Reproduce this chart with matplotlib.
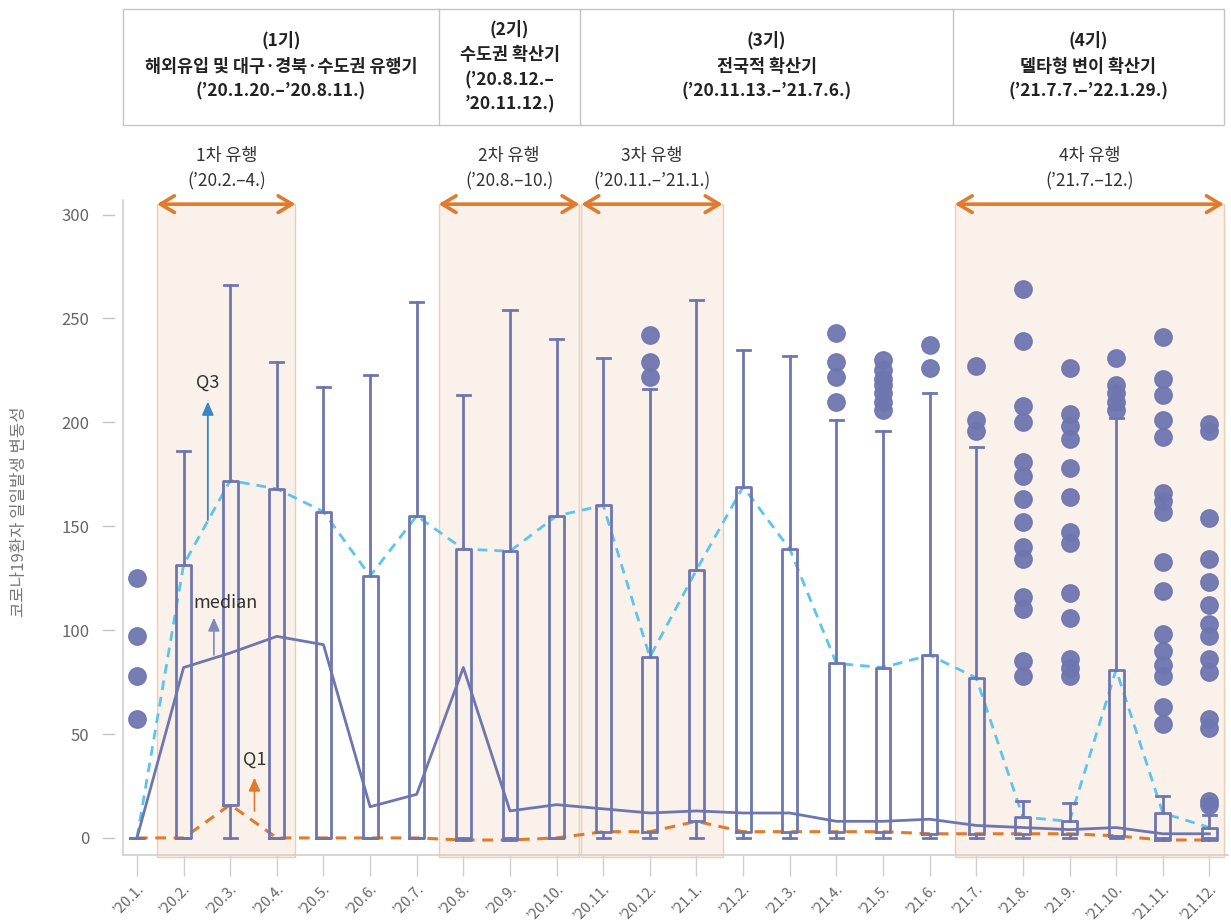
import matplotlib
matplotlib.use("Agg")
import matplotlib.pyplot as plt
from matplotlib.patches import Rectangle

plt.rcParams['font.family'] = ['Noto Sans CJK KR', 'DejaVu Sans']

# ---- data -------------------------------------------------------------
months = ["’20.1.", "’20.2.", "’20.3.", "’20.4.", "’20.5.", "’20.6.",
          "’20.7.", "’20.8.", "’20.9.", "’20.10.", "’20.11.", "’20.12.",
          "’21.1.", "’21.2.", "’21.3.", "’21.4.", "’21.5.", "’21.6.",
          "’21.7.", "’21.8.", "’21.9.", "’21.10.", "’21.11.", "’21.12."]

q1 = [0, 0, 16, 0, 0, 0, 0, -1, -1, 0, 3, 3,
      8, 3, 3, 3, 3, 2, 2, 2, 2, 1, -1, -1]
median = [0, 82, 89, 97, 93, 15, 21, 82, 13, 16, 14, 12,
          13, 12, 12, 8, 8, 9, 6, 5, 4, 5, 2, 2]
q3 = [0, 131.5, 172, 168, 157, 126, 155, 139, 138, 155, 160, 87,
      129, 169, 139, 84, 82, 88, 77, 10, 8, 81, 12, 5]
whisker_low = [0] * 24
whisker_high = [0, 186, 266, 229, 217, 223, 258, 213, 254, 240, 231, 216,
                259, 235, 232, 201, 196, 214, 188, 18, 17, 202, 20, 11]
outliers = [
    [125, 97, 78, 57],
    [], [], [], [], [], [], [], [], [], [],
    [242, 229, 222],
    [], [], [],
    [243, 229, 222, 210],
    [230, 225, 221, 218, 214, 210, 206],
    [237, 226],
    [227, 201, 196],
    [264, 239, 208, 200, 181, 174, 163, 152, 140, 134, 116, 110, 85, 78],
    [226, 204, 198, 192, 178, 164, 147, 142, 118, 106, 86, 82, 78],
    [231, 218, 214, 210, 206],
    [241, 221, 213, 201, 193, 166, 162, 157, 133, 119, 98, 90, 83, 78, 63, 55],
    [199, 196, 154, 134, 123, 112, 103, 97, 86, 80, 57, 53, 18, 16],
]

# epidemic waves: (start, end, title, period) on the month axis
wave_start = [0.43, 6.47, 9.53, 17.54]
wave_end = [3.40, 9.49, 12.56, 23.31]
wave_title = ["1차 유행", "2차 유행", "3차 유행", "4차 유행"]
wave_period = ["(’20.2.–4.)", "(’20.8.–10.)", "(’20.11.–’21.1.)", "(’21.7.–12.)"]

# header phases
phase_edges = [-0.3, 6.47, 9.51, 17.5, 23.31]
phase_text = [
    ["(1기)", "해외유입 및 대구·경북·수도권 유행기", "(’20.1.20.–’20.8.11.)"],
    ["(2기)", "수도권 확산기", "(’20.8.12.–", "’20.11.12.)"],
    ["(3기)", "전국적 확산기", "(’20.11.13.–’21.7.6.)"],
    ["(4기)", "델타형 변이 확산기", "(’21.7.7.–’22.1.29.)"],
]

# ---- styling ------------------------------------------------------------
BOX = "#6e76b0"
CYAN = "#5cc4ee"
ORANGE = "#e07a2c"
SHADE = "#faf1ea"
SHADE_EDGE = "#f0cdb0"
GRID_GRAY = "#c4c4c4"
TEXT = "#333333"

fig = plt.figure(figsize=(12.31, 9.22), dpi=100)
ax = fig.add_axes([0.0999, 0.0727, 0.8977, 0.7104])
ymin, ymax = -8.2, 307.0
ax.set_xlim(-0.3, 23.4)
ax.set_ylim(ymin, ymax)

x = list(range(len(months)))

# shaded wave periods with double-headed arrows and captions
for s, e, t, p in zip(wave_start, wave_end, wave_title, wave_period):
    ax.add_patch(Rectangle((s, ymin - 1), e - s, 305 - ymin + 1, facecolor=SHADE,
                           edgecolor=SHADE_EDGE, lw=1.0, zorder=0, clip_on=False))
    ax.annotate("", xy=(s, 305), xytext=(e, 305),
                arrowprops=dict(arrowstyle="<->,head_length=1.0,head_width=0.6",
                                color=ORANGE, lw=2.6, shrinkA=0, shrinkB=0),
                annotation_clip=False, zorder=5)
    cx = (s + e) / 2
    ax.text(cx, 328.2, t, ha="center", va="center", fontsize=12.5, color=TEXT)
    ax.text(cx, 316.0, p, ha="center", va="center", fontsize=12.5, color=TEXT)

# header boxes
head_top, head_bot = 398.7, 343.3
ax.add_patch(Rectangle((phase_edges[0], head_bot), phase_edges[-1] - phase_edges[0],
                       head_top - head_bot, facecolor="white", edgecolor=GRID_GRAY,
                       lw=1.0, clip_on=False, zorder=1))
for xe in phase_edges[1:-1]:
    ax.plot([xe, xe], [head_bot, head_top], color=GRID_GRAY, lw=1.0, clip_on=False)
for i, lines in enumerate(phase_text):
    cx = (phase_edges[i] + phase_edges[i + 1]) / 2
    if len(lines) == 3:
        ys = [383.7, 371.2, 359.2]
    else:
        ys = [389.2, 377.0, 364.6, 353.0]
    for yy, ln in zip(ys, lines):
        ax.text(cx, yy, ln, ha="center", va="center", fontsize=12.5,
                fontweight="bold", color="#222222", clip_on=False)

# quartile lines
ax.plot(x, q3, color=CYAN, lw=2.0, ls=(0, (3.5, 2.5)), zorder=3)
ax.plot(x, q1, color=ORANGE, lw=2.2, ls=(0, (3.5, 2.5)), zorder=3)
ax.plot(x, median, color=BOX, lw=2.0, zorder=3)

# box plots
stats = []
for i in x:
    stats.append(dict(med=median[i], q1=q1[i], q3=q3[i],
                      whislo=whisker_low[i], whishi=whisker_high[i],
                      fliers=outliers[i]))
ax.bxp(stats, positions=x, widths=0.32, capwidths=0.28, showfliers=True,
       boxprops=dict(color=BOX, lw=2.0),
       whiskerprops=dict(color=BOX, lw=2.0),
       capprops=dict(color=BOX, lw=2.0),
       medianprops=dict(lw=0),
       flierprops=dict(marker="o", markerfacecolor=BOX, markeredgecolor=BOX,
                       markersize=12.5, alpha=0.95),
       manage_ticks=False, zorder=4)

# legend-like annotations
ax.annotate("", xy=(1.52, 210), xytext=(1.52, 153),
            arrowprops=dict(arrowstyle="-|>,head_length=0.8,head_width=0.35",
                            color="#3b86c7", lw=1.3, shrinkA=0, shrinkB=0), zorder=6)
ax.text(1.52, 219, "Q3", ha="center", va="center", fontsize=13, color=TEXT, zorder=6)

ax.annotate("", xy=(1.65, 106), xytext=(1.65, 88),
            arrowprops=dict(arrowstyle="-|>,head_length=0.8,head_width=0.35",
                            color="#8088bd", lw=1.2, shrinkA=0, shrinkB=0), zorder=6)
ax.text(1.9, 113, "median", ha="center", va="center", fontsize=13, color=TEXT, zorder=6)

ax.annotate("", xy=(2.52, 29), xytext=(2.52, 13),
            arrowprops=dict(arrowstyle="-|>,head_length=0.8,head_width=0.35",
                            color=ORANGE, lw=1.2, shrinkA=0, shrinkB=0), zorder=6)
ax.text(2.52, 37.5, "Q1", ha="center", va="center", fontsize=13, color=TEXT, zorder=6)

# axes
for side in ("top", "right"):
    ax.spines[side].set_visible(False)
for side in ("left", "bottom"):
    ax.spines[side].set_color("#d0d0d0")
    ax.spines[side].set_linewidth(1.2)

yticks = [0, 50, 100, 150, 200, 250, 300]
ax.set_yticks(yticks)
ax.tick_params(axis="y", length=0, pad=24, labelsize=12, labelcolor="#666666")
ytr = ax.get_yaxis_transform()
for yt in yticks:
    ax.plot([-0.018, -0.008], [yt, yt], color=GRID_GRAY, lw=1.0,
            transform=ytr, clip_on=False)

ax.set_xticks(x)
ax.set_xticklabels(months, rotation=45, ha="right", va="top",
                   rotation_mode="anchor")
ax.tick_params(axis="x", length=15, width=1.0, color="#d0d0d0",
               labelsize=10.5, labelcolor="#666666", pad=4)

fig.text(0.016, 0.445, "코로나19환자 일일발생 변동성", rotation=90,
         ha="center", va="center", fontsize=12, color="#777777")

fig.savefig("out.png", dpi=100)
